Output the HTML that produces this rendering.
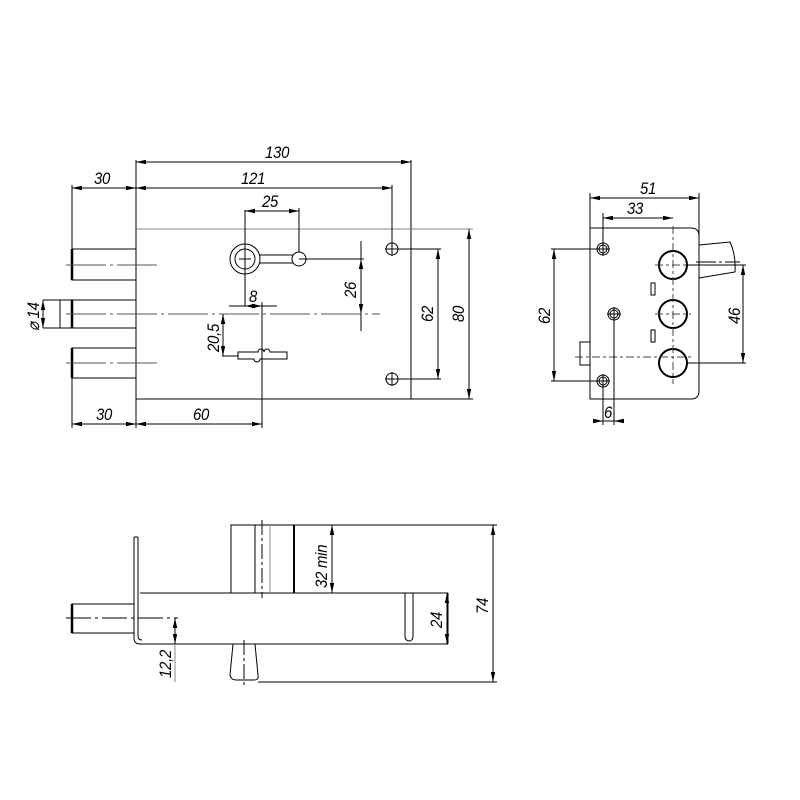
<!DOCTYPE html>
<html><head><meta charset="utf-8"><style>
html,body{margin:0;padding:0;background:#fff}
svg{display:block}
text{font-family:"Liberation Sans",sans-serif;font-style:italic;font-size:17px;fill:#000;letter-spacing:-0.3px}
</style></head><body>
<svg width="800" height="800" viewBox="0 0 800 800" xmlns="http://www.w3.org/2000/svg">
<defs>
<marker id="a" viewBox="0 0 10 6" refX="10" refY="3" markerWidth="10" markerHeight="6" orient="auto-start-reverse" markerUnits="userSpaceOnUse"><path d="M0,0.8 L10,3 L0,5.2z" fill="#000"/></marker>
</defs>
<g fill="none" stroke="#000" stroke-width="1">
<!-- FRONT VIEW -->
<rect x="136" y="229" width="275" height="170"/>
<line x1="136" y1="229" x2="473" y2="229" stroke="#888"/>
<line x1="411" y1="399" x2="473" y2="399"/>
<line x1="411" y1="160" x2="411" y2="229"/>
<rect x="72" y="249" width="64" height="31"/>
<rect x="60" y="300" width="76" height="28"/>
<rect x="72" y="348" width="64" height="30"/>
<line x1="72" y1="249" x2="72" y2="280" stroke-width="2.5"/>
<line x1="72" y1="300" x2="72" y2="328" stroke-width="2.5"/>
<line x1="72" y1="348" x2="72" y2="378" stroke-width="2.5"/>
<line x1="72" y1="185" x2="72" y2="249"/>
<line x1="72" y1="378" x2="72" y2="428"/>
<line x1="136" y1="160" x2="136" y2="229"/>
<line x1="136" y1="399" x2="136" y2="428"/>
<g stroke-dasharray="40,4,3,4" stroke="#555">
<line x1="66" y1="265" x2="160" y2="265"/>
<line x1="66" y1="314" x2="380" y2="314"/>
<line x1="66" y1="363" x2="160" y2="363"/>
</g>
<circle cx="245" cy="259" r="15"/>
<circle cx="245" cy="259" r="10"/>
<circle cx="299" cy="259" r="7"/>
<line x1="259" y1="255" x2="293" y2="255"/>
<line x1="259" y1="263" x2="293" y2="263"/>
<line x1="239" y1="259" x2="251" y2="259"/>
<line x1="245" y1="210" x2="245" y2="306"/>
<line x1="299" y1="208" x2="299" y2="252"/>
<line x1="299" y1="259" x2="364" y2="259"/>
<path d="M238,352 h20 a3,3 0 0 1 6,0 a3,3 0 0 1 6,0 h17 v7 h-27 a3,3 0 0 1 -6,0 h-16z"/>
<line x1="222" y1="356" x2="238" y2="356"/>
<line x1="262" y1="302" x2="262" y2="428"/>
<circle cx="392" cy="249" r="6"/><circle cx="392" cy="379" r="6"/>
<path d="M385,249h14M392,242v14M385,379h14M392,372v14"/>
<line x1="392" y1="185" x2="392" y2="243"/>
<line x1="398" y1="249" x2="441" y2="249"/>
<line x1="398" y1="379" x2="441" y2="379"/>
<line x1="136" y1="162" x2="411" y2="162" marker-start="url(#a)" marker-end="url(#a)"/>
<line x1="136" y1="188" x2="392" y2="188" marker-start="url(#a)" marker-end="url(#a)"/>
<line x1="72" y1="188" x2="136" y2="188" marker-start="url(#a)" marker-end="url(#a)"/>
<line x1="72" y1="424" x2="136" y2="424" marker-start="url(#a)" marker-end="url(#a)"/>
<line x1="136" y1="424" x2="262" y2="424" marker-start="url(#a)" marker-end="url(#a)"/>
<line x1="245" y1="211" x2="299" y2="211" marker-start="url(#a)" marker-end="url(#a)"/>
<line x1="361" y1="241" x2="361" y2="331"/>
<line x1="361" y1="259" x2="361" y2="314" marker-start="url(#a)" marker-end="url(#a)"/>
<line x1="229" y1="306" x2="277" y2="306"/>
<line x1="245" y1="306" x2="262" y2="306" marker-start="url(#a)" marker-end="url(#a)"/>
<line x1="223" y1="314" x2="223" y2="356" marker-start="url(#a)" marker-end="url(#a)"/>
<line x1="438" y1="249" x2="438" y2="379" marker-start="url(#a)" marker-end="url(#a)"/>
<line x1="469" y1="229" x2="469" y2="399" marker-start="url(#a)" marker-end="url(#a)"/>
<line x1="43" y1="300" x2="72" y2="300"/><line x1="43" y1="328" x2="72" y2="328"/>
<line x1="43" y1="300" x2="43" y2="328" marker-start="url(#a)" marker-end="url(#a)"/>

<!-- SIDE VIEW -->
<path d="M590,228 H691 Q699,228 699,236 V391 Q699,399 691,399 H590 Z"/>
<rect x="580" y="342" width="10" height="23"/>
<path d="M699,245 L730,242 Q736,255 735,272 L699,278"/>
<line x1="696" y1="262" x2="740" y2="262" stroke-dasharray="20,3,3,3"/>
<circle cx="603" cy="249" r="6"/><circle cx="603" cy="249" r="4"/>
<circle cx="603" cy="381" r="6"/><circle cx="603" cy="381" r="4"/>
<circle cx="614" cy="314" r="6"/><circle cx="614" cy="314" r="4"/>
<path d="M596,249h14M603,242v14M596,381h14M603,374v14M607,314h14M614,307v14"/>
<circle cx="673" cy="265" r="14" stroke-width="2"/>
<circle cx="673" cy="314" r="14" stroke-width="2"/>
<circle cx="673" cy="363" r="14" stroke-width="2"/>
<g stroke-dasharray="8,3,3,3" stroke="#444">
<line x1="673" y1="226" x2="673" y2="384"/>
<line x1="655" y1="265" x2="691" y2="265"/>
<line x1="655" y1="314" x2="691" y2="314"/>
<line x1="575" y1="357" x2="691" y2="357"/>
</g>
<rect x="651" y="283" width="4" height="12"/><rect x="651" y="330" width="4" height="12"/>
<line x1="590" y1="193" x2="590" y2="228"/>
<line x1="699" y1="193" x2="699" y2="236"/>
<line x1="603" y1="213" x2="603" y2="243"/>
<line x1="551" y1="249" x2="597" y2="249"/>
<line x1="551" y1="381" x2="597" y2="381"/>
<line x1="603" y1="387" x2="603" y2="425"/>
<line x1="614" y1="320" x2="614" y2="425"/>
<line x1="687" y1="265" x2="746" y2="265"/>
<line x1="687" y1="363" x2="746" y2="363"/>
<line x1="590" y1="198" x2="699" y2="198" marker-start="url(#a)" marker-end="url(#a)"/>
<line x1="603" y1="218" x2="673" y2="218" marker-start="url(#a)" marker-end="url(#a)"/>
<line x1="554" y1="249" x2="554" y2="381" marker-start="url(#a)" marker-end="url(#a)"/>
<line x1="743" y1="265" x2="743" y2="363" marker-start="url(#a)" marker-end="url(#a)"/>
<line x1="593" y1="421" x2="603" y2="421" marker-end="url(#a)"/>
<line x1="624" y1="421" x2="614" y2="421" marker-end="url(#a)"/>
<line x1="603" y1="421" x2="614" y2="421"/>

<!-- BOTTOM VIEW -->
<path d="M140,593 H448 M140,644 H448 M448,593 V644"/>
<path d="M134,537 V638 Q134,644 140,644 M138,537 V593 M134,537 H138 M138,593 V636 Q138,640 142,640"/>
<rect x="72" y="604" width="62" height="29"/>
<line x1="72" y1="604" x2="72" y2="633" stroke-width="2.5"/>
<line x1="66" y1="618" x2="178" y2="618" stroke-dasharray="25,4,3,4"/>
<rect x="231" y="525" width="63" height="68"/>
<line x1="255" y1="525" x2="255" y2="593"/>
<line x1="270" y1="525" x2="270" y2="593" stroke="#888"/>
<line x1="294" y1="525" x2="294" y2="593" stroke-width="2"/>
<line x1="262" y1="520" x2="262" y2="598" stroke-dasharray="15,3,3,3"/>
<path d="M405,593 V636 Q405,641 410,641 Q413,640 413,636 V593"/>
<path d="M233,644 L230,675 Q231,680 236,680 H254 Q259,680 258,675 L255,644"/>
<line x1="244" y1="640" x2="244" y2="685" stroke-dasharray="15,3,3,3"/>
<line x1="294" y1="525" x2="497" y2="525"/>
<line x1="258" y1="682" x2="497" y2="682"/>
<line x1="175" y1="618" x2="175" y2="682" stroke="#888"/>
<line x1="332" y1="525" x2="332" y2="593" marker-start="url(#a)" marker-end="url(#a)"/>
<line x1="447" y1="593" x2="447" y2="644" marker-start="url(#a)" marker-end="url(#a)"/>
<line x1="493" y1="525" x2="493" y2="682" marker-start="url(#a)" marker-end="url(#a)"/>
<line x1="175" y1="618" x2="175" y2="644" marker-start="url(#a)" marker-end="url(#a)"/>
</g>
<g>
<text transform="translate(265,158) scale(0.88,1)">130</text>
<text transform="translate(241,184) scale(0.88,1)">121</text>
<text transform="translate(94,184) scale(0.88,1)">30</text>
<text transform="translate(96,420) scale(0.88,1)">30</text>
<text transform="translate(193,420) scale(0.88,1)">60</text>
<text transform="translate(262,207) scale(0.88,1)">25</text>
<text transform="translate(249,302) scale(0.88,1)">8</text>
<text transform="translate(356,298) rotate(-90) scale(0.88,1)">26</text>
<text transform="translate(219,352) rotate(-90) scale(0.88,1)">20,5</text>
<text transform="translate(433,322) rotate(-90) scale(0.88,1)">62</text>
<text transform="translate(464,322) rotate(-90) scale(0.88,1)">80</text>
<text transform="translate(39,331) rotate(-90) scale(0.88,1)">⌀ 14</text>
<text transform="translate(640,194) scale(0.88,1)">51</text>
<text transform="translate(627,214) scale(0.88,1)">33</text>
<text transform="translate(604,418) scale(0.88,1)">6</text>
<text transform="translate(550,324) rotate(-90) scale(0.88,1)">62</text>
<text transform="translate(740,324) rotate(-90) scale(0.88,1)">46</text>
<text transform="translate(327,588) rotate(-90) scale(0.88,1)">32 min</text>
<text transform="translate(442,628) rotate(-90) scale(0.88,1)">24</text>
<text transform="translate(488,614) rotate(-90) scale(0.88,1)">74</text>
<text transform="translate(171,678) rotate(-90) scale(0.88,1)">12,2</text>
</g>
</svg>
</body></html>
